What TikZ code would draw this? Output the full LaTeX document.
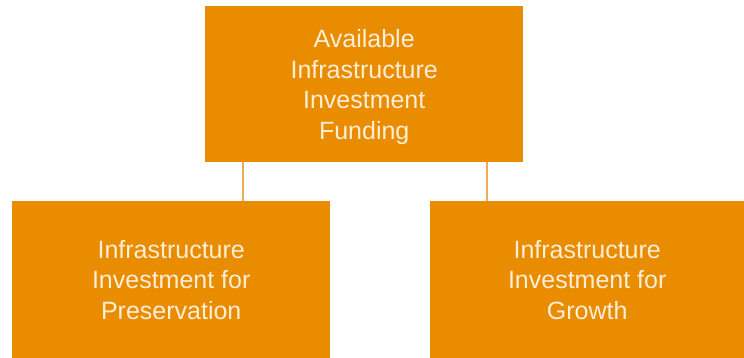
\documentclass[tikz,border=0pt]{standalone}
\usepackage{fontspec}
\setmainfont{Liberation Sans}
\definecolor{boxfill}{RGB}{233,140,0}
\definecolor{boxtext}{RGB}{252,238,215}
\definecolor{linkline}{RGB}{238,172,80}
\begin{document}
\begin{tikzpicture}[x=1pt,y=-1pt,
  fundbox/.style={fill=boxfill,draw=none,inner sep=0pt,anchor=north west,
    text=boxtext,align=center,font=\fontsize{25}{30.5}\selectfont},
  fundtext/.style={inner sep=0pt,text=boxtext,align=center,
    font=\fontsize{25}{30.5}\selectfont},
  link/.style={draw=linkline,line width=1.6pt}]
  \useasboundingbox (0,0) rectangle (744,358);
  % top funding box, its caption set a little below centre
  \node[fundbox,minimum width=318pt,minimum height=156pt] (top) at (205,6) {};
  \node[fundtext] (toptext) at ([yshift=-3pt]top.center)
    {Available\\Infrastructure\\Investment\\Funding};
  % two branches
  \node[fundbox,minimum width=318pt,minimum height=157pt] (pres) at (12,201)
    {Infrastructure\\Investment for\\Preservation};
  \node[fundbox,minimum width=314pt,minimum height=157pt] (grow) at (430,201)
    {Infrastructure\\Investment for\\Growth};
  % connectors
  \draw[link] (top.south west) ++(38,0) coordinate (ta) -- (ta |- pres.north);
  \draw[link] (top.south west) ++(282,0) coordinate (tb) -- (tb |- grow.north);
\end{tikzpicture}
\end{document}
